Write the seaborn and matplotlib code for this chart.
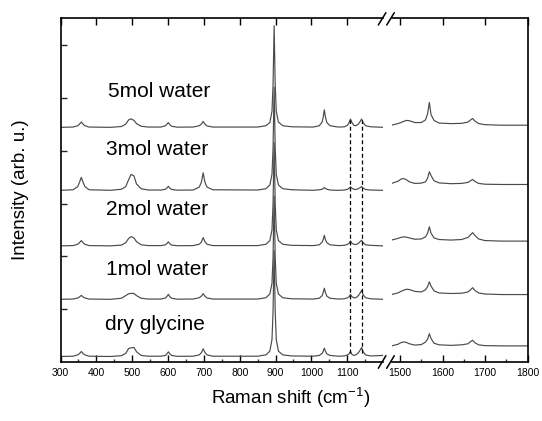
import numpy as np
import pandas as pd
import matplotlib
matplotlib.use("Agg")
import matplotlib.pyplot as plt
from matplotlib.lines import Line2D
import seaborn as sns

# ---------------- data ----------------
samples = ["dry glycine", "1mol water", "2mol water", "3mol water", "5mol water"]

# vertical stacking offsets of each spectrum (low- and high-wavenumber panels)
offset_low = [0.11, 1.19, 2.20, 3.25, 4.44]
offset_high = [0.31, 1.28, 2.29, 3.36, 4.48]

# low-wavenumber panel (300-1200 cm-1)
x_low = [300, 335, 348, 353, 358, 363, 368, 380,
         440, 470, 482, 490, 497, 505, 512, 525, 545,
         580, 593, 597, 601, 605, 610, 625,
         670, 687, 693, 698, 703, 709, 725,
         850, 873, 884, 890, 893, 896, 899, 902, 908, 920, 945,
         1005, 1022, 1030, 1033, 1036, 1039, 1043, 1052, 1075,
         1092, 1101, 1105, 1109, 1113, 1118, 1124, 1131, 1136, 1140, 1144, 1151, 1165, 1200]

int_low_dry = [0, 0.005, 0.03, 0.055, 0.094, 0.055, 0.03, 0.005,
               0, 0.015, 0.06, 0.15, 0.165, 0.17, 0.09, 0.02, 0.005,
               0.005, 0.02, 0.05, 0.088, 0.05, 0.02, 0.003,
               0.005, 0.03, 0.07, 0.145, 0.075, 0.03, 0.005,
               0.005, 0.03, 0.1, 0.32, 0.85, 2.0, 0.85, 0.32, 0.1, 0.03, 0.01,
               0.005, 0.02, 0.06, 0.1, 0.157, 0.1, 0.05, 0.02, 0.005,
               0.01, 0.03, 0.05, 0.094, 0.04, 0.02, 0.03, 0.07, 0.12, 0.17, 0.09, 0.03, 0.01, 0.02]
int_low_1mol = [0, 0.005, 0.025, 0.045, 0.075, 0.045, 0.025, 0.005,
                0, 0.02, 0.07, 0.105, 0.113, 0.11, 0.07, 0.02, 0.005,
                0.005, 0.025, 0.055, 0.094, 0.05, 0.02, 0.003,
                0.005, 0.03, 0.06, 0.107, 0.06, 0.025, 0.005,
                0.005, 0.03, 0.1, 0.3, 0.8, 1.95, 0.8, 0.3, 0.1, 0.03, 0.01,
                0.005, 0.02, 0.07, 0.13, 0.21, 0.13, 0.06, 0.02, 0.005,
                0.01, 0.03, 0.05, 0.094, 0.05, 0.03, 0.03, 0.07, 0.12, 0.17, 0.09, 0.03, 0.01, 0]
int_low_2mol = [0, 0.005, 0.03, 0.06, 0.10, 0.06, 0.03, 0.005,
                0, 0.015, 0.06, 0.14, 0.176, 0.15, 0.08, 0.02, 0.005,
                0.005, 0.02, 0.045, 0.075, 0.04, 0.015, 0.003,
                0.005, 0.03, 0.07, 0.157, 0.08, 0.03, 0.005,
                0.005, 0.03, 0.1, 0.3, 0.8, 1.95, 0.8, 0.3, 0.1, 0.03, 0.01,
                0.005, 0.02, 0.07, 0.12, 0.2, 0.12, 0.06, 0.02, 0.005,
                0.01, 0.03, 0.05, 0.094, 0.05, 0.03, 0.025, 0.045, 0.08, 0.107, 0.06, 0.02, 0.01, 0]
int_low_3mol = [0, 0.01, 0.07, 0.15, 0.245, 0.15, 0.07, 0.01,
                0, 0.02, 0.07, 0.2, 0.30, 0.27, 0.12, 0.03, 0.005,
                0.005, 0.02, 0.045, 0.075, 0.04, 0.015, 0.003,
                0.005, 0.06, 0.15, 0.33, 0.15, 0.06, 0.01,
                0.005, 0.03, 0.1, 0.3, 0.8, 1.95, 0.8, 0.3, 0.1, 0.03, 0.01,
                0, 0.01, 0.02, 0.035, 0.05, 0.035, 0.02, 0.005, 0,
                0.005, 0.02, 0.04, 0.065, 0.04, 0.02, 0.015, 0.03, 0.05, 0.07, 0.04, 0.015, 0.005, 0]
int_low_5mol = [0, 0.005, 0.03, 0.06, 0.10, 0.06, 0.03, 0.005,
                0, 0.015, 0.06, 0.14, 0.16, 0.13, 0.07, 0.02, 0.005,
                0.005, 0.03, 0.06, 0.09, 0.05, 0.02, 0.003,
                0.005, 0.03, 0.06, 0.11, 0.06, 0.025, 0.005,
                0.005, 0.03, 0.09, 0.3, 0.8, 1.92, 0.8, 0.3, 0.1, 0.03, 0.01,
                0.005, 0.03, 0.1, 0.2, 0.33, 0.2, 0.09, 0.03, 0.005,
                0.01, 0.04, 0.09, 0.157, 0.09, 0.04, 0.03, 0.06, 0.11, 0.157, 0.09, 0.03, 0.01, 0]

# high-wavenumber panel (1480-1800 cm-1)
x_high = [1480, 1495, 1502, 1508, 1515, 1522, 1535, 1550, 1560, 1565, 1569, 1573,
          1580, 1592, 1620, 1645, 1660, 1666, 1671, 1676, 1685, 1700, 1740, 1800]

int_high_dry = [0.0, 0.03, 0.06, 0.075, 0.065, 0.04, 0.015, 0.025, 0.07, 0.13, 0.23, 0.14,
                0.05, 0.02, 0.01, 0.02, 0.04, 0.08, 0.107, 0.06, 0.02, 0.005, 0, 0]
int_high_1mol = [0.0, 0.03, 0.06, 0.08, 0.1, 0.095, 0.06, 0.05, 0.09, 0.15, 0.24, 0.16,
                 0.07, 0.03, 0.02, 0.025, 0.05, 0.09, 0.13, 0.08, 0.03, 0.01, 0, 0]
int_high_2mol = [0.02, 0.05, 0.07, 0.08, 0.075, 0.06, 0.035, 0.04, 0.08, 0.15, 0.27, 0.15,
                 0.06, 0.03, 0.02, 0.03, 0.07, 0.12, 0.16, 0.11, 0.04, 0.01, 0, 0]
int_high_3mol = [0.02, 0.06, 0.1, 0.113, 0.09, 0.05, 0.02, 0.025, 0.05, 0.12, 0.24, 0.17,
                 0.07, 0.03, 0.015, 0.02, 0.04, 0.07, 0.094, 0.06, 0.02, 0.005, 0, 0]
int_high_5mol = [0.0, 0.03, 0.05, 0.07, 0.09, 0.085, 0.05, 0.05, 0.1, 0.22, 0.43, 0.2,
                 0.09, 0.04, 0.03, 0.035, 0.06, 0.1, 0.126, 0.08, 0.03, 0.01, 0.0, 0.0]

# dashed guide lines
guide_x = [1108, 1140]
guide_y = [0.17, 4.58]

# label positions (x in cm-1, y baseline in stacked units)
label_x = [423, 428, 428, 428, 432]
label_y = [0.61, 1.65, 2.78, 3.92, 5.02]

# ---------------- build long-form tables ----------------
low_ints = [int_low_dry, int_low_1mol, int_low_2mol, int_low_3mol, int_low_5mol]
high_ints = [int_high_dry, int_high_1mol, int_high_2mol, int_high_3mol, int_high_5mol]

df_low = pd.concat([
    pd.DataFrame({"shift": x_low, "intensity": np.array(v) + o, "sample": s})
    for s, v, o in zip(samples, low_ints, offset_low)], ignore_index=True)
df_high = pd.concat([
    pd.DataFrame({"shift": x_high, "intensity": np.array(v) + o, "sample": s})
    for s, v, o in zip(samples, high_ints, offset_high)], ignore_index=True)

# ---------------- style ----------------
sns.set_style("white")
plt.rcParams["font.family"] = ["Liberation Sans", "DejaVu Sans"]
plt.rcParams["mathtext.fontset"] = "custom"
plt.rcParams["mathtext.rm"] = "Liberation Sans"
plt.rcParams["mathtext.it"] = "Liberation Sans:italic"
plt.rcParams["mathtext.bf"] = "Liberation Sans:bold"

W, H = 542, 421
fig = plt.figure(figsize=(W / 100, H / 100), dpi=100)

y_top, y_bot = 18.3, 362.3


def rect(x0, x1):
    return [x0 / W, (H - y_bot) / H, (x1 - x0) / W, (y_bot - y_top) / H]


ax1 = fig.add_axes(rect(60.5, 383.1))
ax2 = fig.add_axes(rect(391.5, 527.5))

line_color = "#4a4a4a"
pal = [line_color] * len(samples)
sns.lineplot(data=df_low, x="shift", y="intensity", hue="sample", palette=pal,
             estimator=None, legend=False, ax=ax1, linewidth=0.85)
sns.lineplot(data=df_high, x="shift", y="intensity", hue="sample", palette=pal,
             estimator=None, legend=False, ax=ax2, linewidth=0.85)

for gx in guide_x:
    ax1.plot([gx, gx], guide_y, color="black", linewidth=0.9, linestyle=(0, (3.2, 2.2)))

for s, lx, ly in zip(samples, label_x, label_y):
    ax1.text(lx, ly, s, fontsize=15, ha="left", va="baseline", color="black")

# axes limits and ticks
for ax in (ax1, ax2):
    ax.set_ylim(0, 6.5)
    ax.set_xlabel("")
    ax.set_ylabel("")
    for sp in ax.spines.values():
        sp.set_linewidth(1.2)
        sp.set_color("black")

ax1.set_xlim(300, 1200)
ax2.set_xlim(1480, 1800)
ax1.spines["right"].set_visible(False)
ax2.spines["left"].set_visible(False)

ax1.set_xticks(np.arange(300, 1101, 100))
ax1.set_xticks(np.arange(350, 1151, 100), minor=True)
ax2.set_xticks(np.arange(1500, 1801, 100))
ax2.set_xticks(np.arange(1550, 1751, 100), minor=True)

for ax in (ax1, ax2):
    ax.tick_params(axis="x", which="major", direction="in", top=True, bottom=True,
                   length=4.8, width=1.0, labelsize=7.5, pad=4, colors="black")
    ax.tick_params(axis="x", which="minor", direction="in", top=False, bottom=True,
                   length=2.4, width=1.0)

ax1.set_yticks([1, 2, 3, 4, 5, 6])
ax1.tick_params(axis="y", which="major", direction="in", left=True, right=False,
                length=4.3, width=1.0, labelleft=False)
ax2.set_yticks([])
ax2.tick_params(axis="y", left=False, right=False, labelleft=False)

# axis titles
fig.text(291 / W, 1 - 386 / H, r"Raman shift (cm$^{\mathrm{-1}}$)", ha="center", va="top",
         fontsize=13.5, color="black")
fig.text(21 / W, 1 - 190 / H, "Intensity (arb. u.)", ha="center", va="center",
         rotation=90, fontsize=13.5, color="black")

# axis break marks
for (yb0, yb1) in [(25.0, 12.7), (368.3, 355.7)]:
    for xs in (378.3, 386.7):
        fig.add_artist(Line2D([xs / W, (xs + 7.6) / W], [1 - yb0 / H, 1 - yb1 / H],
                              transform=fig.transFigure, color="black", linewidth=1.1))

fig.savefig("out.png", dpi=100)
